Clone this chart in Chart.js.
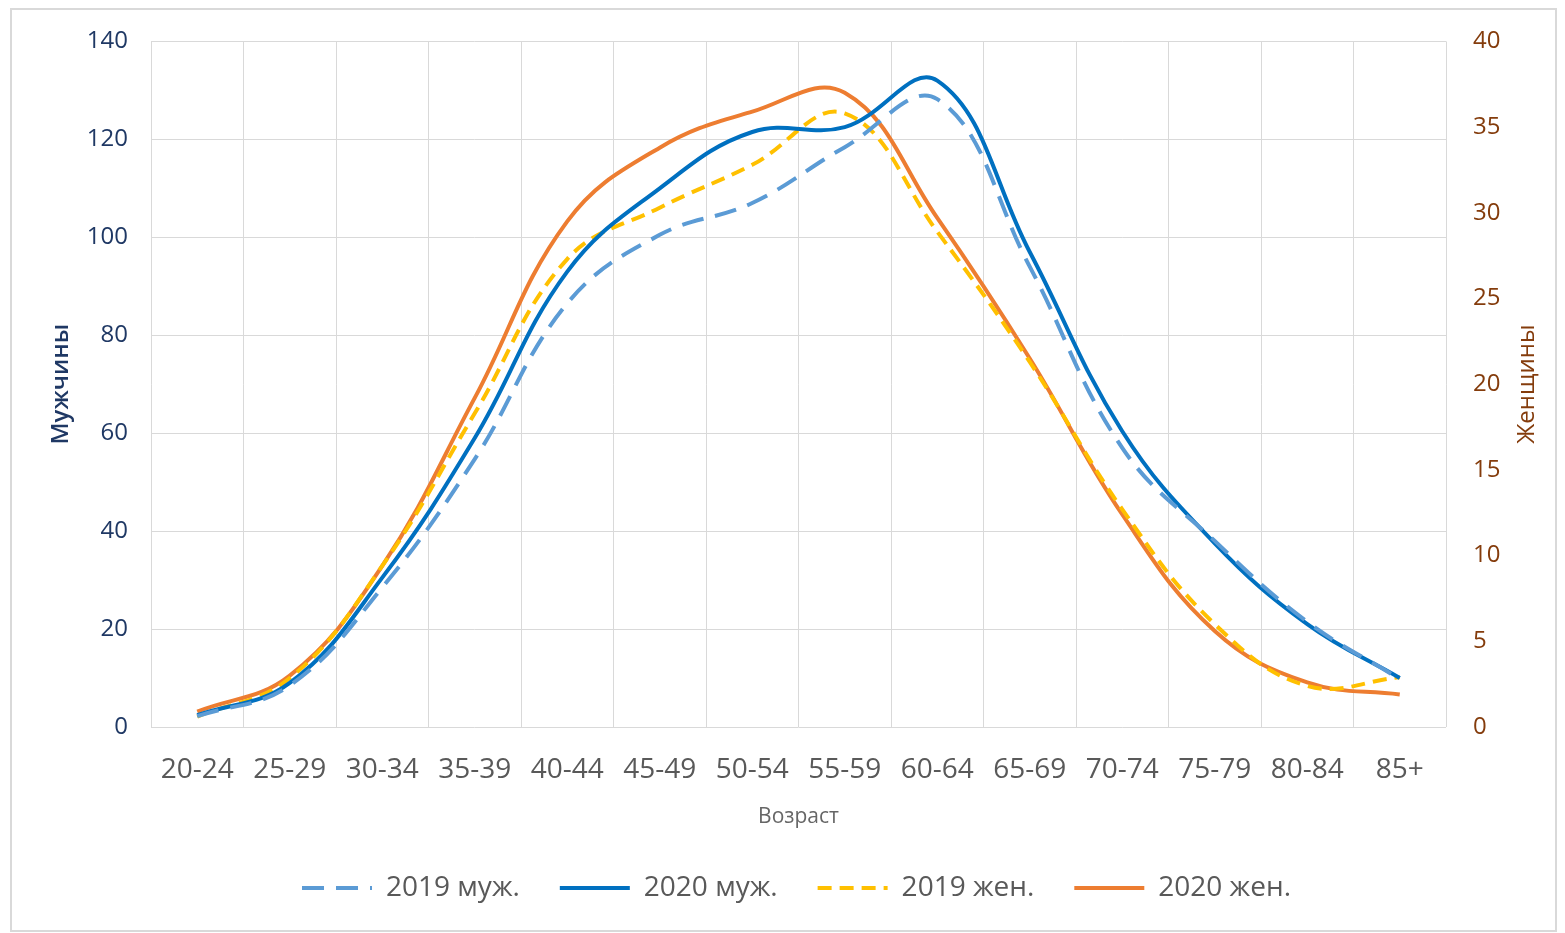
<!DOCTYPE html>
<html>
<head>
<meta charset="utf-8">
<script src="https://cdn.jsdelivr.net/npm/chart.js@4"></script>
<style>
  body { margin: 0; background: #fff; }
  #wrap { position: relative; width: 1565px; height: 933px; }
  #frame { position: absolute; left: 10px; top: 8px; width: 1543px; height: 920px; border: 2px solid #d9d9d9; }
  #age { position: absolute; left: 0; top: 0; }
</style>
</head>
<body>
<div id="wrap">
  <div id="frame"></div>
  <canvas id="age" width="1565" height="933"></canvas>
</div>
<script>
const ageGroups = ["20-24", "25-29", "30-34", "35-39", "40-44", "45-49", "50-54",
  "55-59", "60-64", "65-69", "70-74", "75-79", "80-84", "85+"];

const men2019 = [2.2, 8.5, 28.5, 54.7, 86.5, 100.5, 107, 118.4, 128.2, 94, 57, 38, 21.5, 9.8];
const men2020 = [2.4, 9, 30.5, 59, 93, 110, 121.5, 122.5, 132, 97, 60.4, 37.5, 21, 10];
const women2019 = [0.6, 2.85, 9.4, 18.3, 27.3, 30.3, 32.8, 35.8, 28.9, 21.3, 12.7, 6.0, 2.4, 2.9];
const women2020 = [0.9, 3.0, 9.4, 19.2, 29.5, 33.8, 35.9, 37.0, 29.7, 21.5, 12.4, 5.6, 2.6, 1.9];

const FONT = "'Open Sans', sans-serif";

// right axis title reads bottom-to-top like the left one
const rightTitle = {
  id: "rightTitle",
  afterLayout(chart) {
    // legend sits centred under the plot area, not the canvas
    chart.legend.left += 14;
    chart.legend.right += 14;
  },
  afterDraw(chart) {
    const ctx = chart.ctx;
    const area = chart.chartArea;
    ctx.save();
    ctx.translate(1527, (area.top + area.bottom) / 2);
    ctx.rotate(-Math.PI / 2);
    ctx.font = "24px " + FONT;
    ctx.fillStyle = "#843c0c";
    ctx.textAlign = "center";
    ctx.textBaseline = "middle";
    ctx.fillText("Женщины", 0, 0);
    ctx.restore();
  },
};

const ctx = document.getElementById("age").getContext("2d");

let ageChart = new Chart(ctx, {
  type: "line",
  data: {
    labels: ageGroups,
    datasets: [
      {
        label: "2019 муж.",
        data: men2019,
        yAxisID: "y",
        borderColor: "#5b9bd5",
        backgroundColor: "#5b9bd5",
        borderDash: [22, 12],
      },
      {
        label: "2020 муж.",
        data: men2020,
        yAxisID: "y",
        borderColor: "#0070c0",
        backgroundColor: "#0070c0",
      },
      {
        label: "2019 жен.",
        data: women2019,
        yAxisID: "y1",
        borderColor: "#ffc000",
        backgroundColor: "#ffc000",
        borderDash: [14, 8],
      },
      {
        label: "2020 жен.",
        data: women2020,
        yAxisID: "y1",
        borderColor: "#ed7d31",
        backgroundColor: "#ed7d31",
      },
    ],
  },
  options: {
    responsive: false,
    animation: false,
    elements: {
      point: { radius: 0 },
      line: { borderWidth: 4, tension: 0.4, fill: false },
    },
    layout: {
      padding: { top: 39, left: 0, right: 0, bottom: 21 },
    },
    plugins: {
      legend: {
        display: true,
        position: "bottom",
        labels: {
          usePointStyle: true,
          pointStyle: "line",
          pointStyleWidth: 70,
          color: "#595959",
          padding: 40,
          font: { family: FONT, size: 28 },
          generateLabels: function (chart) {
            const items = Chart.defaults.plugins.legend.labels.generateLabels(chart);
            items.forEach((item) => {
              const ds = chart.data.datasets[item.datasetIndex];
              item.lineWidth = 4;
              item.lineDash = ds.borderDash || [];
              item.strokeStyle = ds.borderColor;
            });
            return items;
          },
        },
      },
      tooltip: { enabled: false },
    },
    scales: {
      x: {
        offset: true,
        afterFit: (scale) => { scale.height = 107; },
        grid: { offset: true, color: "#d9d9d9", drawTicks: false },
        border: { display: false },
        ticks: {
          color: "#595959",
          padding: 26,
          maxRotation: 0,
          autoSkip: false,
          font: { family: FONT, size: 28 },
        },
        title: {
          display: true,
          text: "Возраст",
          color: "#666666",
          padding: { top: 14 },
          font: { family: FONT, size: 21 },
        },
      },
      y: {
        position: "left",
        min: 0,
        max: 140,
        afterFit: (scale) => { scale.width = 151; },
        grid: { color: "#d9d9d9", drawTicks: false },
        border: { display: false },
        ticks: {
          stepSize: 20,
          color: "#1f3864",
          padding: 23,
          font: { family: FONT, size: 24 },
        },
        title: {
          display: true,
          text: "Мужчины",
          color: "#1f3864",
          padding: { top: 47 },
          font: { family: FONT, size: 24, weight: "600" },
        },
      },
      y1: {
        position: "right",
        min: 0,
        max: 40,
        afterFit: (scale) => { scale.width = 119; },
        grid: { display: false, drawTicks: false },
        border: { display: false },
        ticks: {
          stepSize: 5,
          color: "#843c0c",
          padding: 27,
          font: { family: FONT, size: 24 },
        },
      },
    },
  },
  plugins: [rightTitle],
});
</script>
</body>
</html>
